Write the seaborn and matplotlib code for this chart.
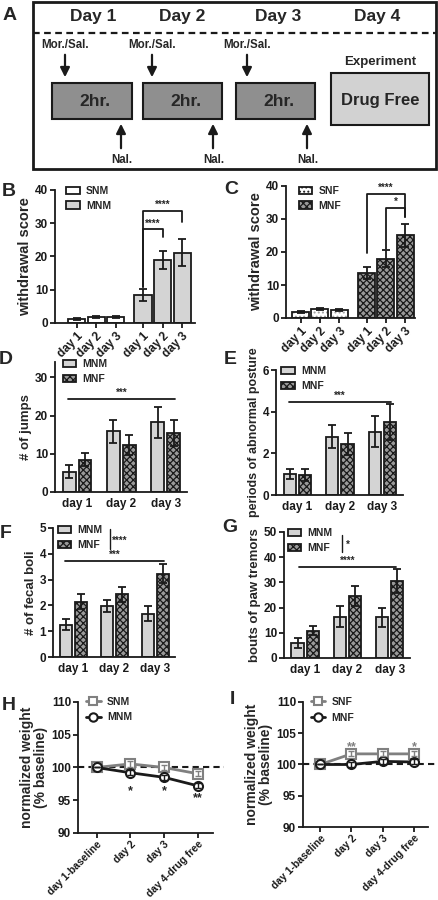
import numpy as np
import pandas as pd
import matplotlib
matplotlib.use('Agg')
import matplotlib.pyplot as plt
import matplotlib.colors as mcolors
from matplotlib.patches import Patch, Rectangle
from matplotlib.lines import Line2D
import seaborn as sns

# ---------------- data ----------------
days = ['day 1', 'day 2', 'day 3']
weight_days = ['day 1-baseline', 'day 2', 'day 3', 'day 4-drug free']

# B: withdrawal score (saline / morphine, no fentanyl)
b_snm = [1.2, 1.8, 1.8]
b_snm_err = [0.25, 0.3, 0.3]
b_mnm = [8.4, 19.0, 21.2]
b_mnm_err = [1.7, 2.8, 4.0]

# C: withdrawal score (fentanyl)
c_snf = [1.7, 2.7, 2.3]
c_snf_err = [0.3, 0.35, 0.3]
c_mnf = [13.6, 18.0, 25.1]
c_mnf_err = [1.8, 2.6, 3.5]

# D: jumps
d_mnm = [5.3, 15.9, 18.2]
d_mnm_err = [1.7, 3.0, 4.1]
d_mnf = [8.4, 12.3, 15.4]
d_mnf_err = [1.7, 2.6, 3.4]

# E: abnormal posture
e_mnm = [1.0, 2.8, 3.04]
e_mnm_err = [0.24, 0.56, 0.75]
e_mnf = [0.94, 2.45, 3.49]
e_mnf_err = [0.29, 0.51, 0.86]

# F: fecal boli
f_mnm = [1.25, 1.97, 1.68]
f_mnm_err = [0.21, 0.22, 0.28]
f_mnf = [2.15, 2.43, 3.23]
f_mnf_err = [0.30, 0.28, 0.36]

# G: paw tremors
g_mnm = [6.1, 16.4, 16.1]
g_mnm_err = [2.0, 4.2, 3.8]
g_mnf = [10.9, 24.6, 30.6]
g_mnf_err = [1.9, 4.1, 4.8]

# H / I: normalized weight
h_snm = [100.0, 100.55, 100.0, 99.05]
h_mnm = [100.0, 99.2, 98.5, 97.2]
i_snf = [100.0, 101.7, 101.7, 101.7]
i_mnf = [100.0, 100.0, 100.5, 100.4]
weight_err = [0.0, 0.4, 0.4, 0.4]

# ---------------- style ----------------
sns.set_theme(style='ticks')
plt.rcParams['font.family'] = ['Liberation Sans', 'DejaVu Sans']
plt.rcParams['font.weight'] = 'bold'
plt.rcParams['axes.labelweight'] = 'bold'
plt.rcParams['hatch.linewidth'] = 0.9

LIGHT = '#d4d4d4'
DARK = '#9a9a9a'
MNF_HATCH = 'xxxxx'
GREY_LINE = '#808080'
LW = 1.3

W, H = 438, 900
fig = plt.figure(figsize=(W / 100, H / 100), dpi=100)


def add_ax(x0, y0, x1, y1):
    return fig.add_axes([x0 / W, 1 - y1 / H, (x1 - x0) / W, (y1 - y0) / H])


def style(ax):
    sns.despine(ax=ax)
    for s in ['left', 'bottom']:
        ax.spines[s].set_linewidth(LW)
        ax.spines[s].set_color('k')
    ax.tick_params(width=LW, length=3.5, labelsize=8.5, pad=1.5, colors='k')


def letter(x, y, s):
    fig.text(x / W, 1 - y / H, s, fontsize=14, fontweight='bold', ha='center', va='center')


def set_hatch(patches, hatch, hcolor):
    for p in patches:
        p.set_hatch(hatch)
        p._hatch_color = mcolors.to_rgba(hcolor)


# ---------------- panel A: schematic ----------------
axA = fig.add_axes([0, 1 - 172 / H, 1, 172 / H])
axA.set_xlim(0, W)
axA.set_ylim(172, 0)
axA.axis('off')
axA.add_patch(Rectangle((33, 1.5), 403, 167, fill=False, lw=2, ec='k'))
axA.plot([33, 436], [33, 33], ls=(0, (3, 2)), color='k', lw=1.6)
for xc, lab in zip([93, 182, 278, 377], ['Day 1', 'Day 2', 'Day 3', 'Day 4']):
    axA.text(xc, 17, lab, ha='center', va='center', fontsize=12.5, fontweight='bold')
for x0, x1, xd, xu in [(52, 132, 65, 121), (143, 222, 152, 213), (236, 315, 247, 307)]:
    axA.add_patch(Rectangle((x0, 83), x1 - x0, 36, fc='#8f8f8f', ec='k', lw=1.5))
    axA.text((x0 + x1) / 2 + 3, 102, '2hr.', ha='center', va='center', fontsize=12.5, fontweight='bold')
    axA.annotate('', xy=(xd, 80), xytext=(xd, 52),
                 arrowprops=dict(arrowstyle='-|>', color='k', lw=1.6, mutation_scale=14))
    axA.text(xd, 45, 'Mor./Sal.', ha='center', va='center', fontsize=8.3, fontweight='bold')
    axA.annotate('', xy=(xu, 121), xytext=(xu, 151),
                 arrowprops=dict(arrowstyle='-|>', color='k', lw=1.6, mutation_scale=14))
    axA.text(xu + 1, 160, 'Nal.', ha='center', va='center', fontsize=8.3, fontweight='bold')
axA.add_patch(Rectangle((331, 73), 98, 52, fc='#d2d2d2', ec='k', lw=1.5))
axA.text(380, 100, 'Drug Free', ha='center', va='center', fontsize=12, fontweight='bold')
axA.text(380, 62, 'Experiment', ha='center', va='center', fontsize=9.5, fontweight='bold')
letter(10, 15, 'A')


# ---------------- panels B / C: split bar charts ----------------
def split_bars(ax, sal, sal_err, mor, mor_err, sal_kw, mor_kw):
    pos_sal = np.arange(len(days))
    pos_mor = np.arange(len(days)) + 3.4
    for pos, vals, kw in [(pos_sal, sal, sal_kw), (pos_mor, mor, mor_kw)]:
        df = pd.DataFrame({'pos': pos, 'val': vals})
        sns.barplot(data=df, x='pos', y='val', native_scale=True, orient='x', width=0.88,
                    color=kw['color'], saturation=1, errorbar=None, edgecolor='k',
                    linewidth=LW, ax=ax)
    n = len(days)
    if sal_kw.get('hatch'):
        set_hatch(ax.patches[:n], sal_kw['hatch'], sal_kw['hcolor'])
    if mor_kw.get('hatch'):
        set_hatch(ax.patches[n:2 * n], mor_kw['hatch'], mor_kw['hcolor'])
    ax.errorbar(pos_sal, sal, yerr=sal_err, fmt='none', ecolor='k', elinewidth=LW, capsize=3, capthick=LW, zorder=3)
    ax.errorbar(pos_mor, mor, yerr=mor_err, fmt='none', ecolor='k', elinewidth=LW, capsize=3, capthick=LW, zorder=3)
    ax.set_xticks(np.concatenate([pos_sal, pos_mor]))
    ax.set_xticklabels(days * 2, rotation=45, ha='right', rotation_mode='anchor')
    ax.set_ylim(0, 40)
    ax.set_yticks([0, 10, 20, 30, 40])
    ax.set_xlabel('')
    ax.set_ylabel('withdrawal score', fontsize=10.5, labelpad=2)
    return pos_mor


def bracket(ax, x1, x2, y, y1, y2, text, dy=0.8, fs=7):
    ax.plot([x1, x1, x2, x2], [y1, y, y, y2], color='k', lw=LW, clip_on=False)
    ax.text((x1 + x2) / 2, y + dy, text, ha='center', va='bottom', fontsize=fs, fontweight='bold')


axB = add_ax(55, 190, 195, 323)
pB = split_bars(axB, b_snm, b_snm_err, b_mnm, b_mnm_err,
                dict(color='white'), dict(color=LIGHT))
axB.set_xlim(-1.1, 6.05)
bracket(axB, pB[0], pB[2], 33.8, 10.8, 30.5, '****', dy=0.2)
bracket(axB, pB[0], pB[1], 28.2, 10.8, 26.0, '****', dy=0.2)
style(axB)
axB.legend([Patch(fc='white', ec='k', lw=LW), Patch(fc=LIGHT, ec='k', lw=LW)], ['SNM', 'MNM'],
           loc='upper left', bbox_to_anchor=(0.08, 1.03), frameon=False, fontsize=7.5,
           handlelength=1.3, handleheight=0.7, labelspacing=0.45, handletextpad=0.6,
           borderaxespad=0, borderpad=0)
letter(9, 192, 'B')

axC = add_ax(286, 186, 415, 318)
pC = split_bars(axC, c_snf, c_snf_err, c_mnf, c_mnf_err,
                dict(color='white', hatch='....', hcolor='#a0a0a0'),
                dict(color=DARK, hatch=MNF_HATCH, hcolor='k'))
axC.set_xlim(-0.75, 5.9)
bracket(axC, pC[0], pC[2], 37.5, 19.8, 30.5, '****', dy=0.4)
bracket(axC, pC[1], pC[2], 33.2, 21.0, 30.5, '*', dy=0.4)
style(axC)
axC.legend([Patch(fc='white', ec='k', lw=LW, hatch='....'), Patch(fc=DARK, ec='k', lw=LW, hatch=MNF_HATCH)],
           ['SNF', 'MNF'], loc='upper left', bbox_to_anchor=(0.1, 1.0), frameon=False, fontsize=7.5,
           handlelength=1.3, handleheight=0.7, labelspacing=0.45, handletextpad=0.6,
           borderaxespad=0, borderpad=0)
letter(231, 190, 'C')


# ---------------- panels D-G: grouped bar charts ----------------
def grouped_bars(ax, mnm, mnm_err, mnf, mnf_err, ylim, yticks, ylabel, lfs=9.5):
    df = pd.DataFrame({'day': days * 2, 'val': mnm + mnf,
                       'group': ['MNM'] * len(days) + ['MNF'] * len(days)})
    width = 0.72
    sns.barplot(data=df, x='day', y='val', hue='group', hue_order=['MNM', 'MNF'],
                palette={'MNM': LIGHT, 'MNF': DARK}, saturation=1, width=width, gap=0.2,
                errorbar=None, edgecolor='k', linewidth=LW, legend=False, ax=ax)
    dark_rgba = mcolors.to_rgba(DARK)
    set_hatch([p for p in ax.patches if np.allclose(p.get_facecolor(), dark_rgba)], MNF_HATCH, 'k')
    x = np.arange(len(days))
    ax.errorbar(x - width / 4, mnm, yerr=mnm_err, fmt='none', ecolor='k', elinewidth=LW, capsize=3, capthick=LW, zorder=3)
    ax.errorbar(x + width / 4, mnf, yerr=mnf_err, fmt='none', ecolor='k', elinewidth=LW, capsize=3, capthick=LW, zorder=3)
    ax.set_ylim(*ylim)
    ax.set_yticks(yticks)
    ax.set_xlim(-0.5, 2.48)
    ax.set_xlabel('')
    ax.set_ylabel(ylabel, fontsize=lfs, labelpad=2)
    style(ax)
    ax.tick_params(axis='x', length=0, pad=4)


def group_legend(ax, anchor):
    ax.legend([Patch(fc=LIGHT, ec='k', lw=LW), Patch(fc=DARK, ec='k', lw=LW, hatch=MNF_HATCH)],
              ['MNM', 'MNF'], loc='upper left', bbox_to_anchor=anchor, frameon=False, fontsize=7.5,
              handlelength=1.3, handleheight=0.7, labelspacing=0.45, handletextpad=0.6,
              borderaxespad=0, borderpad=0)


def sig_line(ax, y, text, x1=-0.2, x2=2.2, dy=0.0):
    ax.plot([x1, x2], [y, y], color='k', lw=LW)
    ax.text((x1 + x2) / 2, y + dy, text, ha='center', va='bottom', fontsize=7, fontweight='bold')


axD = add_ax(55, 362, 187, 492)
grouped_bars(axD, d_mnm, d_mnm_err, d_mnf, d_mnf_err, (0, 34), [0, 10, 20, 30], '# of jumps')
sig_line(axD, 24.4, '***', dy=0.3)
group_legend(axD, (0.06, 1.02))
letter(6, 360, 'D')

axE = add_ax(276, 370, 403, 495)
grouped_bars(axE, e_mnm, e_mnm_err, e_mnf, e_mnf_err, (0, 6), [0, 2, 4, 6], 'periods of abnormal posture', lfs=9)
sig_line(axE, 4.45, '***', dy=0.05)
group_legend(axE, (0.04, 1.03))
letter(230, 360, 'E')

axF = add_ax(53, 528, 175, 657)
grouped_bars(axF, f_mnm, f_mnm_err, f_mnf, f_mnf_err, (0, 5), [0, 1, 2, 3, 4, 5], '# of fecal boli')
sig_line(axF, 3.72, '***', dy=0.03)
axF.plot([0.89, 0.89], [4.2, 4.95], color='k', lw=1.0)
axF.text(0.95, 4.52, '****', ha='left', va='center', fontsize=7, fontweight='bold')
group_legend(axF, (0.04, 1.02))
letter(6, 533, 'F')

axG = add_ax(284, 532, 410, 658)
grouped_bars(axG, g_mnm, g_mnm_err, g_mnf, g_mnf_err, (0, 50), [0, 10, 20, 30, 40, 50], 'bouts of paw tremors')
sig_line(axG, 36.2, '****', x1=-0.15, x2=2.15, dy=0.3)
axG.plot([0.88, 0.88], [42.2, 48.9], color='k', lw=1.0)
axG.text(0.96, 44.9, '*', ha='left', va='center', fontsize=7, fontweight='bold')
group_legend(axG, (0.03, 1.03))
letter(230, 528, 'G')


# ---------------- panels H / I: weight lines ----------------
def weight_panel(ax, sal, mor, sal_name, mor_name):
    pos = np.arange(len(weight_days))
    df = pd.DataFrame({'pos': np.concatenate([pos, pos]), 'w': sal + mor,
                       'group': [sal_name] * len(pos) + [mor_name] * len(pos)})
    ax.axhline(100, xmin=0, xmax=1.08, clip_on=False, ls=(0, (3, 2)), lw=1.5, color='k', zorder=1)
    sns.lineplot(data=df, x='pos', y='w', hue='group', style='group',
                 hue_order=[sal_name, mor_name], style_order=[sal_name, mor_name],
                 palette={sal_name: GREY_LINE, mor_name: 'k'},
                 markers={sal_name: 's', mor_name: 'o'}, dashes=False, lw=2, ms=6.5,
                 markerfacecolor='white', legend=False, ax=ax)
    for line in ax.lines[1:]:
        line.set_markeredgecolor(line.get_color())
        line.set_markeredgewidth(1.5)
    ax.errorbar(pos, sal, yerr=weight_err, fmt='none', ecolor=GREY_LINE, elinewidth=1, capsize=2, zorder=4)
    ax.errorbar(pos, mor, yerr=weight_err, fmt='none', ecolor='k', elinewidth=1, capsize=2, zorder=4)
    ax.set_ylim(90, 110)
    ax.set_yticks([90, 95, 100, 105, 110])
    ax.set_xlim(-0.55, 3.45)
    ax.set_xticks(pos)
    ax.set_xticklabels(weight_days, rotation=45, ha='right', rotation_mode='anchor')
    ax.set_xlabel('')
    ax.set_ylabel('normalized weight\n(% baseline)', fontsize=10, labelpad=2, linespacing=1.0)
    style(ax)
    ax.tick_params(axis='x', labelsize=7.5, pad=1)
    ax.legend([Line2D([], [], color=GREY_LINE, lw=2, marker='s', mfc='white', mec=GREY_LINE, mew=1.5, ms=6),
               Line2D([], [], color='k', lw=2, marker='o', mfc='white', mec='k', mew=1.5, ms=6)],
              [sal_name, mor_name], loc='upper left', bbox_to_anchor=(0.06, 1.04), frameon=False,
              fontsize=7.5, handlelength=1.4, labelspacing=0.55, handletextpad=0.6,
              borderaxespad=0, borderpad=0)
    return pos


axH = add_ax(78, 702, 213, 833)
pH = weight_panel(axH, h_snm, h_mnm, 'SNM', 'MNM')
for p, s, y in [(pH[1], '*', 96.0), (pH[2], '*', 96.0), (pH[3], '**', 94.8)]:
    axH.text(p, y, s, ha='center', va='baseline', fontsize=9, fontweight='bold')
letter(9, 705, 'H')

axI = add_ax(303, 702, 428, 827)
pI = weight_panel(axI, i_snf, i_mnf, 'SNF', 'MNF')
for p, s in [(pI[1], '**'), (pI[3], '*')]:
    axI.text(p, 102.3, s, ha='center', va='baseline', fontsize=9, fontweight='bold', color=GREY_LINE)
letter(232, 700, 'I')

fig.savefig('out.png', dpi=100)
